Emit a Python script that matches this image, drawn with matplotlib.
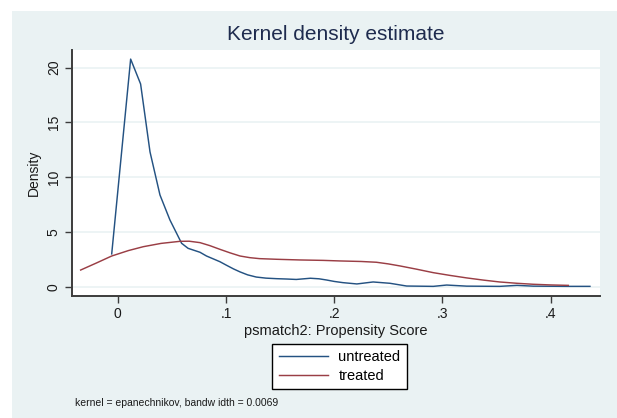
import matplotlib
matplotlib.use("Agg")
import matplotlib.pyplot as plt
from matplotlib.patches import Rectangle

plt.rcParams['font.family'] = ['Liberation Sans', 'DejaVu Sans']

# Kernel density of the propensity score, untreated group
untreated_x = [-0.0056, 0.0119, 0.0211, 0.0298, 0.039, 0.0482, 0.059, 0.065, 0.076,
               0.082, 0.0944, 0.1006, 0.107, 0.113, 0.12, 0.128, 0.137, 0.147, 0.156,
               0.165, 0.178, 0.186, 0.193, 0.2, 0.208, 0.221, 0.236, 0.2516, 0.267,
               0.2916, 0.304, 0.3225, 0.353, 0.369, 0.384, 0.415, 0.4364]
untreated_y = [2.99, 20.77, 18.5, 12.3, 8.37, 6.09, 3.96, 3.5, 3.14,
               2.8, 2.28, 1.95, 1.62, 1.35, 1.08, 0.88, 0.78, 0.73, 0.7,
               0.66, 0.77, 0.72, 0.61, 0.48, 0.37, 0.25, 0.43, 0.31, 0.06,
               0.03, 0.15, 0.05, 0.03, 0.12, 0.05, 0.03, 0.03]

# Kernel density of the propensity score, treated group
treated_x = [-0.0343, -0.02, -0.0056, 0.01, 0.0236, 0.04, 0.0575, 0.066, 0.076,
             0.085, 0.0944, 0.104, 0.113, 0.122, 0.131, 0.147, 0.168, 0.19, 0.205,
             0.225, 0.239, 0.25, 0.261, 0.276, 0.2916, 0.307, 0.3225, 0.338, 0.353,
             0.369, 0.384, 0.40, 0.4164]
treated_y = [1.52, 2.15, 2.8, 3.3, 3.65, 3.95, 4.14, 4.15, 4.02,
             3.75, 3.41, 3.08, 2.8, 2.65, 2.56, 2.5, 2.44, 2.4, 2.35,
             2.3, 2.23, 2.08, 1.89, 1.6, 1.28, 1.03, 0.8, 0.6, 0.43,
             0.31, 0.22, 0.16, 0.12]

x_ticks = [0, 0.1, 0.2, 0.3, 0.4]
x_tick_labels = ["0", ".1", ".2", ".3", ".4"]
y_ticks = [0, 5, 10, 15, 20]

W, H = 617, 418
BG = "#eaf2f3"
NAVY = "#245282"
MAROON = "#9a3e45"

fig = plt.figure(figsize=(W / 100, H / 100), dpi=100, facecolor="white")
fig.add_artist(Rectangle((12 / W, 0), 1, (H - 11) / H, transform=fig.transFigure,
                         facecolor=BG, edgecolor="none", zorder=-5))

ax = fig.add_axes([72 / W, (H - 296) / H, (600 - 72) / W, (296 - 50) / H])
ax.set_zorder(1)
ax.set_facecolor("white")
ax.plot(untreated_x, untreated_y, color=NAVY, lw=1.05, label="untreated", zorder=3)
ax.plot(treated_x, treated_y, color=MAROON, lw=1.05, label="treated", zorder=3)

ax.set_xlim(-0.0423, 0.4457)
ax.set_ylim(-0.85, 21.6)
ax.set_xticks(x_ticks)
ax.set_xticklabels(x_tick_labels)
ax.set_yticks(y_ticks)
ax.set_yticklabels([str(v) for v in y_ticks], rotation=90, va="center")
ax.yaxis.grid(True, color=BG, lw=1.2)
ax.set_axisbelow(True)

for side in ("top", "right"):
    ax.spines[side].set_visible(False)
for side in ("left", "bottom"):
    ax.spines[side].set_color("#3c3c3c")
    ax.spines[side].set_linewidth(1.4)
ax.tick_params(axis="both", direction="out", length=5, width=1, color="#3c3c3c",
               labelsize=10, labelcolor="#1a1a1a", pad=3)

ax.set_ylabel("Density", fontsize=10, color="#1a1a1a", labelpad=4)
ax.set_xlabel("psmatch2: Propensity Score", fontsize=10.5, color="#1a1a1a", labelpad=2)
ax.set_title("Kernel density estimate", fontsize=15, color="#1e2b4e", pad=7)

leg = fig.legend(loc="center", bbox_to_anchor=(339.5 / W, 1 - 366.5 / H), ncol=1,
                 frameon=True, fancybox=False, fontsize=10.5, handlelength=3.4,
                 handletextpad=0.7, borderpad=0.45, labelspacing=0.3,
                 framealpha=1, facecolor="white", edgecolor="black")
leg.get_frame().set_linewidth(1.0)
for line in leg.get_lines():
    line.set_linewidth(1.05)

fig.text(75 / W, 1 - 403 / H, "kernel = epanechnikov, bandw idth = 0.0069",
         fontsize=7.5, color="#1a1a1a", va="center", ha="left")

fig.savefig("out.png", dpi=100, facecolor="white")
